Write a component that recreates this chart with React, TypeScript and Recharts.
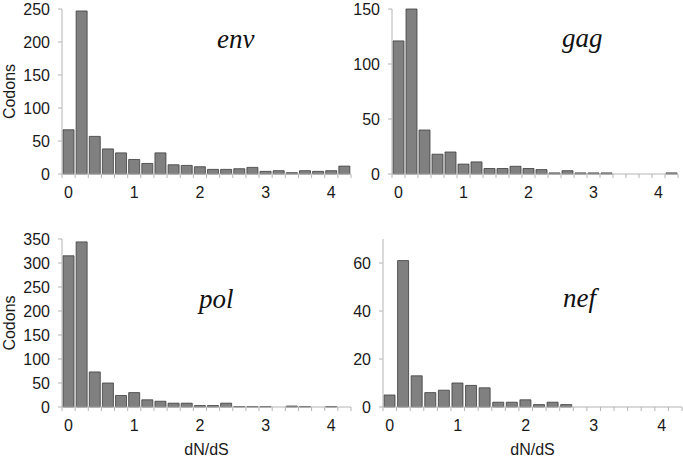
import { BarChart, Bar, XAxis, YAxis } from 'recharts';

// dN/dS bins (lower value of each 0.2-wide bin, drawn at bin centre)
const BINS = [0, 0.2, 0.4, 0.6, 0.8, 1, 1.2, 1.4, 1.6, 1.8, 2, 2.2, 2.4, 2.6, 2.8, 3, 3.2, 3.4, 3.6, 3.8, 4, 4.2];
const X_LABELS = [0, 1, 2, 3, 4];

const ENV = [67, 247, 57, 38, 32, 22, 16, 32, 14, 13, 11, 7, 7, 8, 10, 4, 5, 2, 5, 4, 5, 12];
const GAG = [121, 150, 40, 18, 20, 9, 11, 5, 5, 7, 5, 4, 1, 3, 1, 1, 1, 0, 0, 0, 0, 1];
const POL = [315, 344, 73, 50, 24, 30, 15, 12, 8, 8, 3, 3, 8, 1, 1, 1, 0, 2, 1, 0, 1, 0];
const NEF = [5, 61, 13, 6, 7, 10, 9, 8, 2, 2, 3, 1, 2, 1, 0, 0, 0, 0, 0, 0, 0, 0];

const ENV_TICKS = [0, 50, 100, 150, 200, 250];
const GAG_TICKS = [0, 50, 100, 150];
const POL_TICKS = [0, 50, 100, 150, 200, 250, 300, 350];
const NEF_TICKS = [0, 20, 40, 60];
const NEF_MAX = 70;

const HALF = 0.1;
const EDGES = [...BINS.map(b => +(b - HALF).toFixed(1)), +(BINS[BINS.length - 1] + HALF).toFixed(1)];
const DOMAIN: [number, number] = [EDGES[0], EDGES[EDGES.length - 1]];

const FONT = '"Liberation Sans", Arial, sans-serif';
const AXIS = '#b4b4b4';
const TICK_STYLE = { fontSize: 16, fill: '#1a1a1a', fontFamily: FONT };

const NoLabel = () => <g />;

function codonsLabel(props: any) {
  const { x, y, height } = props.viewBox;
  const cx = x + 9;
  const cy = y + height / 2;
  return (
    <text x={cx} y={cy} transform={`rotate(-90 ${cx} ${cy})`} textAnchor="middle"
      dominantBaseline="central" fontSize={16} fontFamily={FONT} fill="#1a1a1a">
      Codons
    </text>
  );
}

interface PanelProps {
  values: number[];
  yTicks: number[];
  yMax: number;
  width: number;
  height: number;
  top: number;
  right: number;
  showCodons: boolean;
  showXLabel: boolean;
  labelAxisHeight: number;
}

function Panel({ values, yTicks, yMax, width, height, top, right, showCodons, showXLabel, labelAxisHeight }: PanelProps) {
  const data = BINS.map((b, i) => ({ bin: b, count: values[i] }));
  return (
    <BarChart width={width} height={height} data={data} margin={{ top, right, bottom: 0, left: 0 }}>
      <XAxis xAxisId="edges" dataKey="bin" type="number" domain={DOMAIN} ticks={EDGES} interval={0}
        allowDataOverflow tick={NoLabel} tickSize={4} height={5} stroke={AXIS} />
      <XAxis xAxisId="labels" dataKey="bin" type="number" domain={DOMAIN} ticks={X_LABELS} interval={0}
        allowDataOverflow axisLine={false} tickLine={false} tickSize={6} tickMargin={2}
        height={labelAxisHeight} tick={TICK_STYLE}
        label={showXLabel ? { value: 'dN/dS', position: 'insideBottom', offset: 2, fontSize: 16, fontFamily: FONT, fill: '#1a1a1a' } : undefined} />
      <YAxis type="number" domain={[0, yMax]} ticks={yTicks} interval={0} width={62}
        tickSize={4} tickMargin={8} stroke={AXIS} tick={TICK_STYLE}
        label={showCodons ? { content: codonsLabel } : undefined} />
      <Bar xAxisId="edges" dataKey="count" barSize={11} fill="#808080" stroke="#3c3c3c"
        strokeWidth={0.8} isAnimationActive={false} />
    </BarChart>
  );
}

const GENE_STYLE = { fontFamily: '"Liberation Serif", "Times New Roman", serif', fontStyle: 'italic' as const, fontSize: 27, fill: '#111' };

export default function App() {
  return (
    <div style={{ position: 'absolute', left: 0, top: 0, width: 683, height: 457, background: '#fff' }}>
      <div style={{ position: 'absolute', left: 0, top: 0 }}>
        <Panel values={ENV} yTicks={ENV_TICKS} yMax={250} width={360} height={215} top={9} right={9}
          showCodons showXLabel={false} labelAxisHeight={36} />
      </div>
      <div style={{ position: 'absolute', left: 330, top: 0 }}>
        <Panel values={GAG} yTicks={GAG_TICKS} yMax={150} width={353} height={215} top={9} right={5}
          showCodons={false} showXLabel={false} labelAxisHeight={36} />
      </div>
      <div style={{ position: 'absolute', left: 0, top: 226 }}>
        <Panel values={POL} yTicks={POL_TICKS} yMax={350} width={360} height={231} top={13} right={9}
          showCodons showXLabel labelAxisHeight={45} />
      </div>
      <div style={{ position: 'absolute', left: 321, top: 226 }}>
        <Panel values={NEF} yTicks={NEF_TICKS} yMax={NEF_MAX} width={362} height={231} top={13} right={1}
          showCodons={false} showXLabel labelAxisHeight={45} />
      </div>
      <svg width={683} height={457} style={{ position: 'absolute', left: 0, top: 0, pointerEvents: 'none' }}>
        <text x={217} y={48} {...GENE_STYLE}>env</text>
        <text x={562} y={47} {...GENE_STYLE}>gag</text>
        <text x={199} y={308} {...GENE_STYLE}>pol</text>
        <text x={563} y={307} {...GENE_STYLE}>nef</text>
      </svg>
    </div>
  );
}
